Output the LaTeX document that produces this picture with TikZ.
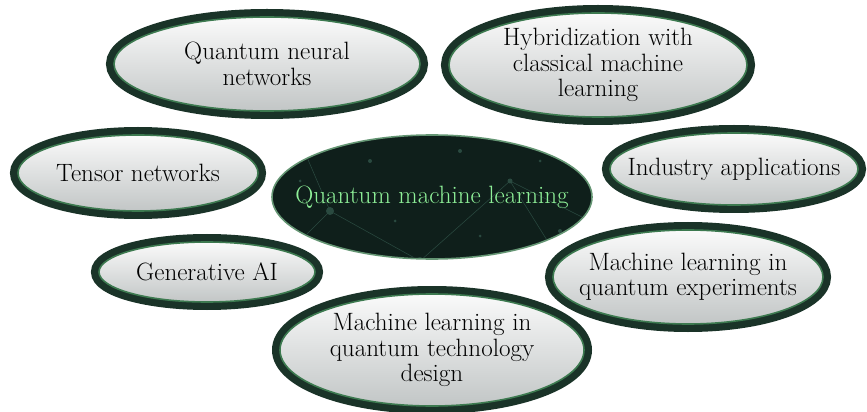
\documentclass[tikz,border=0pt]{standalone}
\usepackage{tikz}

\definecolor{ringdark}{HTML}{1A3328}
\definecolor{ringgreen}{HTML}{3D7A50}
\definecolor{coredark}{HTML}{0F1F1B}
\definecolor{coretext}{HTML}{8EF098}
\definecolor{coredot}{HTML}{2A4A40}
\definecolor{fillbottom}{HTML}{C2C6C6}

\tikzset{
  bubble/.style={preaction={draw=ringdark, line width=12pt},
    top color=white!96!gray, bottom color=fillbottom,
    draw=ringgreen, line width=1.2pt},
  core/.style={fill=coredark, draw=ringgreen!80!white, line width=1.2pt},
  topic/.style={align=center, font=\fontsize{18.8}{19}\selectfont},
}

\begin{document}
\begin{tikzpicture}[x=0.75pt, y=0.75pt]
\useasboundingbox (0,0) rectangle (867,411);
% Themes
\foreach \name/\x/\y/\rx/\ry/\txt in {
  qnn/267/347/153/47/{Quantum neural\\networks},
  hybrid/598/346/149/52/{Hybridization with\\classical machine\\learning},
  tensor/138/238/120/38/{Tensor networks},
  industry/734/242/124/36/{Industry applications},
  genai/207/139/108/30/{Generative AI},
  mlexp/688/134/135/47/{Machine learning in\\quantum experiments},
  mltech/432/61/152/56/{Machine learning in\\quantum technology\\design}} {
  \path[bubble] (\x,\y) ellipse [x radius=\rx, y radius=\ry];
  \node[topic] (\name) at (\x,\y) {\txt};
}
% Centre
\path[core] (432,214) ellipse [x radius=160, y radius=62];
\begin{scope}
  \clip (432,214) ellipse [x radius=159, y radius=61];
  \draw[coredot, line width=0.4pt] (300,270) -- (330,200) -- (420,150) -- (510,230) -- (560,150);
  \draw[coredot, line width=0.4pt] (330,200) -- (290,160);
  \draw[coredot, line width=0.4pt] (510,230) -- (590,190);
  \foreach \px/\py/\r in {330/200/4, 420/150/4, 510/230/2.5, 370/250/2, 460/260/2,
      300/230/1.5, 560/180/2, 395/190/1.5, 480/175/1.5, 350/160/1.5, 540/250/1.5} {
    \fill[coredot] (\px,\py) circle (\r);
  }
\end{scope}
\node[topic, text=coretext] (qml) at (432,214) {Quantum machine learning};
\end{tikzpicture}
\end{document}
